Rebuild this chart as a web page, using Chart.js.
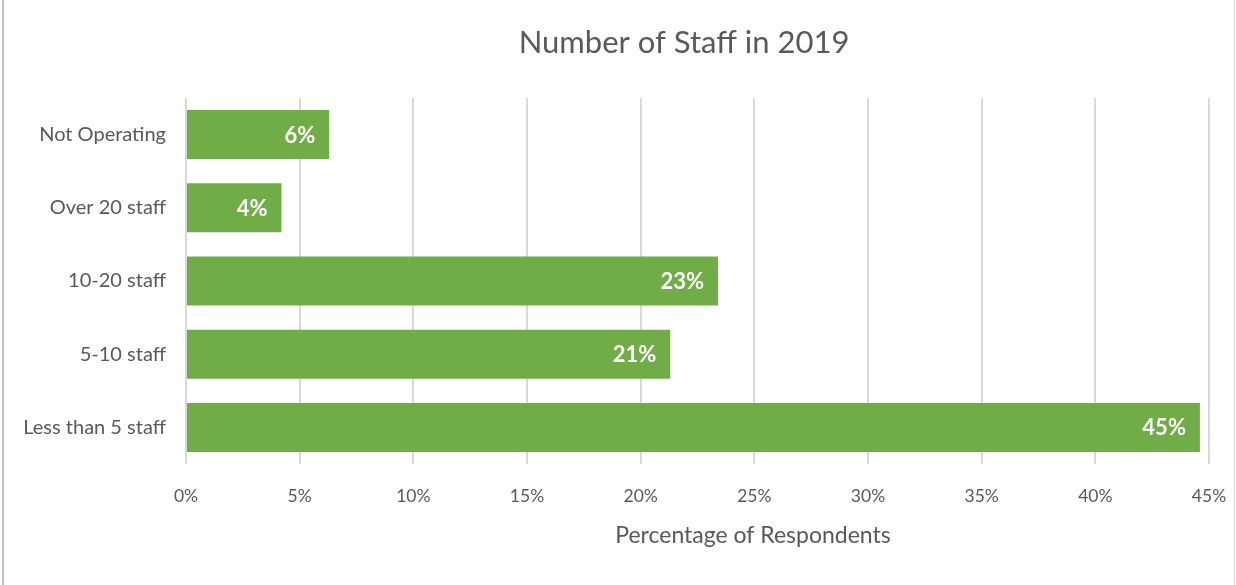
<!DOCTYPE html>
<html>
<head>
<meta charset="utf-8">
<script src="https://cdn.jsdelivr.net/npm/chart.js@4"></script>
<style>
  html, body { margin: 0; padding: 0; background: #ffffff; }
  #wrap { position: relative; width: 1236px; height: 585px; }
  canvas { display: block; }
</style>
</head>
<body>
<div id="wrap"><canvas id="c" width="1236" height="585"></canvas></div>
<script>
const categories = ["Not Operating", "Over 20 staff", "10-20 staff", "5-10 staff", "Less than 5 staff"];
const values = [6.3, 4.2, 23.4, 21.3, 44.6];
const labels = ["6%", "4%", "23%", "21%", "45%"];
const xTicks = [0, 5, 10, 15, 20, 25, 30, 35, 40, 45];
const chartTitle = "Number of Staff in 2019";
const xAxisTitle = "Percentage of Respondents";

const FONT = "Lato, 'Open Sans', sans-serif";
const GREY = "#595959";

const decor = {
  id: "decor",
  afterDatasetsDraw(chart) {
    const ctx = chart.ctx;
    const meta = chart.getDatasetMeta(0);
    ctx.save();
    ctx.fillStyle = "#ffffff";
    ctx.font = "bold 22px " + FONT;
    ctx.textAlign = "right";
    ctx.textBaseline = "middle";
    meta.data.forEach((bar, i) => {
      ctx.fillText(labels[i], bar.x - 14, bar.y + 1);
    });
    ctx.restore();
  },
  afterDraw(chart) {
    const ctx = chart.ctx;
    ctx.save();
    ctx.fillStyle = GREY;
    ctx.textAlign = "center";
    ctx.textBaseline = "middle";
    ctx.font = "31px " + FONT;
    ctx.fillText(chartTitle, 684, 43);
    ctx.font = "23px " + FONT;
    ctx.fillText(xAxisTitle, 753, 536);
    ctx.fillStyle = "#c0c0c0";
    ctx.fillRect(2, 0, 2, 585);
    ctx.fillStyle = "#d6d6d6";
    ctx.fillRect(1234, 0, 1, 585);
    ctx.restore();
  }
};

new Chart(document.getElementById("c"), {
  type: "bar",
  data: {
    labels: categories,
    datasets: [{
      data: values,
      backgroundColor: "#70AD47",
      borderWidth: 0,
      barPercentage: 0.67,
      categoryPercentage: 1.0
    }]
  },
  options: {
    indexAxis: "y",
    responsive: false,
    animation: false,
    events: [],
    layout: { padding: { left: 0, right: 27, top: 98, bottom: 0 } },
    plugins: {
      legend: { display: false },
      tooltip: { enabled: false },
      title: { display: false }
    },
    scales: {
      x: {
        type: "linear",
        min: 0,
        max: 45,
        afterBuildTicks(scale) { scale.ticks = xTicks.map(v => ({ value: v })); },
        afterFit(scale) { scale.height = 121; scale.paddingLeft = 0; scale.paddingRight = 0; },
        grid: { color: "#d9d9d9", lineWidth: 2, drawTicks: false },
        border: { display: false },
        ticks: {
          color: GREY,
          font: { family: FONT, size: 17.5 },
          padding: 22,
          callback: v => v + "%"
        },
        title: { display: false }
      },
      y: {
        afterFit(scale) { scale.width = 186; },
        grid: { display: false, drawTicks: false },
        border: { display: false },
        ticks: {
          color: GREY,
          font: { family: FONT, size: 20 },
          padding: 20
        }
      }
    }
  },
  plugins: [decor]
});
</script>
</body>
</html>
